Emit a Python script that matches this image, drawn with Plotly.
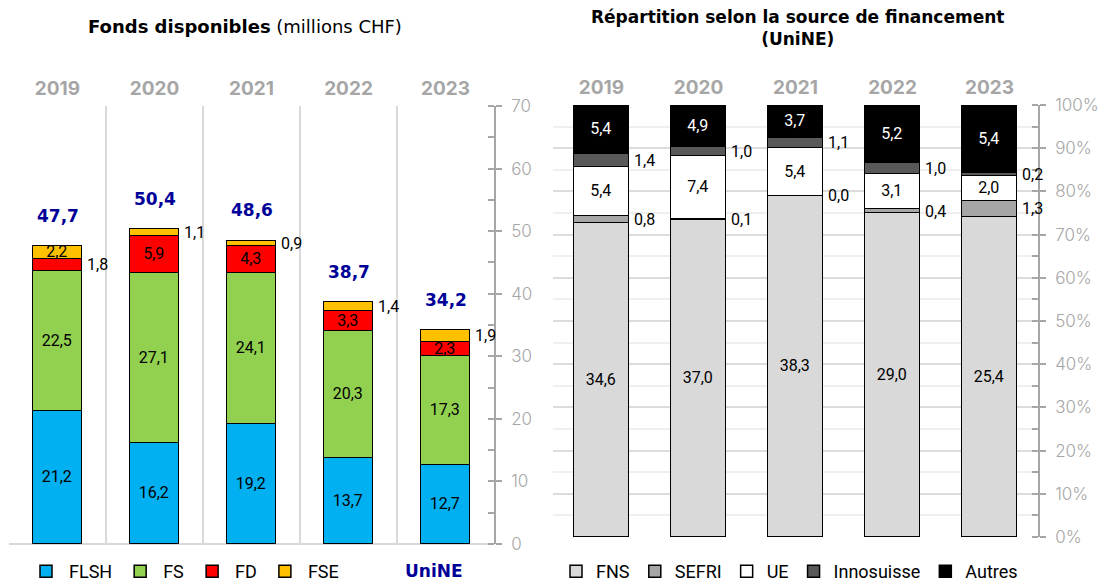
import plotly.graph_objects as go

# ---------------- data ----------------
years = ["2019", "2020", "2021", "2022", "2023"]

# Left chart: Fonds disponibles (millions CHF)
flsh = [21.2, 16.2, 19.2, 13.7, 12.7]
fs = [22.5, 27.1, 24.1, 20.3, 17.3]
fd = [1.8, 5.9, 4.3, 3.3, 2.3]
fse = [2.2, 1.1, 0.9, 1.4, 1.9]
totals = [47.7, 50.4, 48.6, 38.7, 34.2]

# Right chart: Répartition selon la source de financement (UniNE), millions CHF
fns = [34.6, 37.0, 38.3, 29.0, 25.4]
sefri = [0.8, 0.1, 0.0, 0.4, 1.3]
ue = [5.4, 7.4, 5.4, 3.1, 2.0]
innosuisse = [1.4, 1.0, 1.1, 1.0, 0.2]
autres = [5.4, 4.9, 3.7, 5.2, 5.4]

left_ticks = [0, 10, 20, 30, 40, 50, 60, 70]
right_ticks = [0, 10, 20, 30, 40, 50, 60, 70, 80, 90, 100]

# ---------------- style ----------------
W, H = 1101, 582
TFONT = "DejaVu Sans, sans-serif"
FONT = "Inter, Roboto, Liberation Sans, sans-serif"
LBL = "Roboto, Liberation Sans, sans-serif"
GREY = "#a6a6a6"
OUT_THRESHOLD = 2.0
LW, RW = 0.5, 0.567  # bar widths


def fmt(v):
    return f"{v:.1f}".replace(".", ",")


def px_x(p):
    return p / W


def px_y(p):
    return (H - p) / H


fig = go.Figure()

annotations = []


def add_stack(series, names, colors, xa, ya, legend, width, pct=False, textcolors=None):
    n = len(years)
    tot = [sum(s[i] for s in series) for i in range(n)]
    base = [0.0] * n
    for k, (vals, name, col) in enumerate(zip(series, names, colors)):
        yv = [vals[i] / tot[i] * 100 if pct else vals[i] for i in range(n)]
        txt = [fmt(v) if v >= OUT_THRESHOLD else "" for v in vals]
        tc = textcolors[k] if textcolors else "black"
        fig.add_trace(go.Bar(
            x=years, y=yv, name=name, xaxis=xa, yaxis=ya, legend=legend,
            width=width, marker=dict(color=col, line=dict(color="black", width=1.5)),
            text=txt, textposition="inside", insidetextanchor="middle", textangle=0,
            textfont=dict(size=16, color=tc, family=LBL),
            hoverinfo="skip",
        ))
        for i, v in enumerate(vals):
            if v < OUT_THRESHOLD:
                annotations.append(dict(
                    x=i + width / 2, y=base[i] + yv[i] / 2, xref=xa, yref=ya,
                    text=fmt(v), showarrow=False, xanchor="left", yanchor="middle",
                    xshift=3, font=dict(size=16, color="black", family=LBL),
                ))
            base[i] += yv[i]


add_stack([flsh, fs, fd, fse], ["FLSH", "FS", "FD", "FSE"],
          ["#00b0f0", "#92d050", "#ff0000", "#ffc000"], "x", "y", "legend", LW)

add_stack([fns, sefri, ue, innosuisse, autres],
          ["FNS", "SEFRI", "UE", "Innosuisse", "Autres"],
          ["#d9d9d9", "#a6a6a6", "#ffffff", "#595959", "#000000"],
          "x2", "y2", "legend2", RW, pct=True,
          textcolors=["black", "black", "black", "white", "white"])

# totals above left bars
for i, t in enumerate(totals):
    annotations.append(dict(
        x=i, y=t, xref="x", yref="y", text=f"<b>{fmt(t)}</b>", showarrow=False,
        yshift=30, font=dict(size=17, color="#000099", family=TFONT),
    ))

# titles
annotations.append(dict(
    x=px_x(245), y=px_y(27), xref="paper", yref="paper", showarrow=False,
    xanchor="center", yanchor="middle",
    text="<b>Fonds disponibles</b> (millions CHF)",
    font=dict(size=18, color="black", family=TFONT),
))
annotations.append(dict(
    x=px_x(797), y=px_y(28), xref="paper", yref="paper", showarrow=False,
    xanchor="center", yanchor="middle",
    text="<b>Répartition selon la source de financement<br>(UniNE)</b>",
    font=dict(size=17, color="black", family=TFONT),
))
# "UniNE" legend label
annotations.append(dict(
    x=px_x(434), y=px_y(571), xref="paper", yref="paper", showarrow=False,
    xanchor="center", yanchor="middle",
    text="<b>UniNE</b>", font=dict(size=17, color="#000099", family=TFONT),
))

year_font = dict(size=19, color=GREY, family=FONT, weight="bold")
ytick_font = dict(size=17, color=GREY, family=FONT, weight=300)

fig.update_layout(
    width=W, height=H, margin=dict(l=0, r=0, t=0, b=0, autoexpand=False),
    paper_bgcolor="white", plot_bgcolor="white",
    barmode="stack", bargap=0,
    uniformtext=dict(minsize=16, mode="show"),
    annotations=annotations,
    xaxis=dict(
        domain=[px_x(9), px_x(494)], type="category", side="top",
        tickson="boundaries", showgrid=True, gridcolor="#d9d9d9", gridwidth=1.5,
        ticks="", tickfont=year_font, anchor="y", showline=False,
        range=[-0.5, 4.5], automargin=False, ticklabelstandoff=6,
    ),
    yaxis=dict(
        domain=[px_y(544), px_y(106)], range=[0, 70], side="right",
        tickvals=left_ticks, showgrid=False, zeroline=True,
        zerolinecolor="#d9d9d9", zerolinewidth=1.5,
        showline=True, linecolor=GREY, linewidth=1.5,
        ticks="outside", ticklen=6, tickcolor=GREY, tickwidth=1.5,
        minor=dict(dtick=5, ticks="inside", ticklen=6, tickcolor=GREY, tickwidth=1.5, showgrid=False),
        tickfont=ytick_font, ticklabelstandoff=6, anchor="x", automargin=False,
    ),
    xaxis2=dict(
        domain=[px_x(553), px_x(1038)], type="category", side="top",
        showgrid=False, ticks="", tickfont=year_font, anchor="y2",
        range=[-0.5, 4.5], automargin=False, ticklabelstandoff=6,
    ),
    yaxis2=dict(
        domain=[px_y(537), px_y(105)], range=[0, 100], side="right",
        tickvals=right_ticks, ticktext=[f"{v}%" for v in right_ticks],
        showgrid=True, gridcolor="#dcdcdc", gridwidth=1.5,
        zeroline=False,
        showline=True, linecolor=GREY, linewidth=1.5,
        ticks="outside", ticklen=6, tickcolor=GREY, tickwidth=1.5,
        minor=dict(dtick=5, ticks="inside", ticklen=6, tickcolor=GREY, tickwidth=1.5,
                   showgrid=True, gridcolor="#efefef", gridwidth=1.5),
        tickfont=ytick_font, ticklabelstandoff=6, anchor="x2", automargin=False,
    ),
    legend=dict(
        orientation="h", x=px_x(23), y=-8 / H, xanchor="left", yanchor="bottom",
        font=dict(size=18, color="black", family=LBL), traceorder="normal",
        itemwidth=36, bgcolor="rgba(0,0,0,0)",
    ),
    legend2=dict(
        orientation="h", x=px_x(556), y=-8 / H, xanchor="left", yanchor="bottom",
        font=dict(size=18, color="black", family=LBL), traceorder="normal",
        itemwidth=30, bgcolor="rgba(0,0,0,0)",
    ),
)

fig.write_html(
    "out.html",
    config={"displayModeBar": False},
    post_script="document.body.style.margin='0px';document.body.style.overflow='hidden';",
)
